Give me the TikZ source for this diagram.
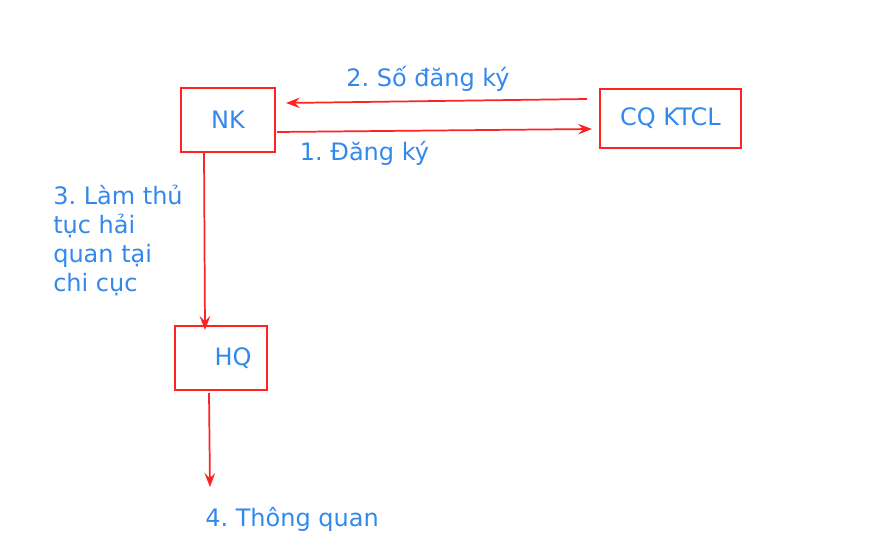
\documentclass[tikz,border=0pt]{standalone}
\usepackage{fontspec}
\setmainfont{DejaVu Sans}
\usepackage{xcolor}
\usepackage{tikz}
\usetikzlibrary{arrows.meta,positioning}
\frenchspacing

\definecolor{boxred}{HTML}{FF2222}
\definecolor{txtblue}{HTML}{3388EE}

\begin{document}
\begin{tikzpicture}[
        x=0.75pt, y=-0.75pt,
        box/.style={rectangle, draw=boxred, line width=1.3pt, inner sep=0pt, text=txtblue, font=\fontsize{18}{21.75}\selectfont},
        lbl/.style={text=txtblue, inner sep=0pt, font=\fontsize{18}{21.75}\selectfont},
        arrow/.style={-{Stealth[length=10.5pt, width=8pt, inset=4pt]}, draw=boxred, line width=1.3pt}
    ]
        \useasboundingbox (0,0) rectangle (869,554);

        % Nodes
        \node[box, minimum width=70.5pt, minimum height=48pt] (nk) at (228,120) {NK};
        \node[box, minimum width=105.75pt, minimum height=44.25pt] (cq) at (670.5,118.5) {CQ KTCL};
        \node[box, minimum width=69pt, minimum height=48pt] (hq) at (221,358) {\hspace{18pt}HQ};

        % Free ends
        \coordinate (cqin) at (592,129);
        \coordinate (cqout) at (587,99);
        \coordinate (nkin) at (286,103);
        \coordinate (nkout) at (277,132);
        \coordinate (nkdown) at (204,153);
        \coordinate (hqin) at (205,330);
        \coordinate (hqout) at (209,393);
        \coordinate (end) at (210,487);

        % Labels
        \node[lbl] (dangky) at (364.5,153) {1. Đăng ký};
        \node[lbl] (sodangky) at (428,79) {2. Số đăng ký};
        \node[lbl, anchor=north west, align=left] (thutuc) at (53,185) {3. Làm thủ\\tục hải\\quan tại\\chi cục};
        \node[lbl, anchor=west] (thongquan) at (205,519) {4. Thông quan};

        % Arrows
        \draw[arrow] (nkout) -- (cqin);
        \draw[arrow] (cqout) -- (nkin);
        \draw[arrow] (nkdown) -- (hqin);
        \draw[arrow] (hqout) -- (end);
    \end{tikzpicture}
\end{document}
